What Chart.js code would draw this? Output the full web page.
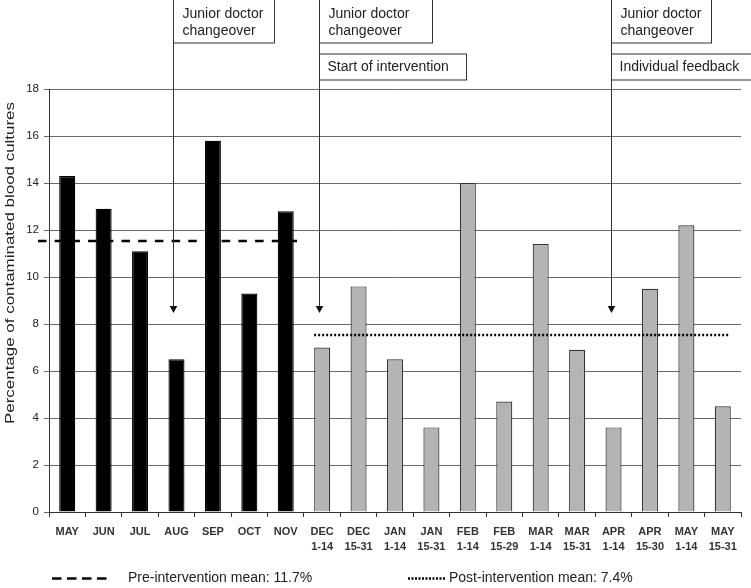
<!DOCTYPE html>
<html>
<head>
<meta charset="utf-8">
<script src="https://cdn.jsdelivr.net/npm/chart.js@4/dist/chart.umd.min.js"></script>
<style>
  html, body { margin: 0; padding: 0; background: #fff; }
</style>
</head>
<body>
<canvas id="myChart" width="751" height="588"></canvas>
<script>
// data
const periods = [
    ['MAY'], ['JUN'], ['JUL'], ['AUG'], ['SEP'], ['OCT'], ['NOV'],
    ['DEC', '1-14'], ['DEC', '15-31'], ['JAN', '1-14'], ['JAN', '15-31'],
    ['FEB', '1-14'], ['FEB', '15-29'], ['MAR', '1-14'], ['MAR', '15-31'],
    ['APR', '1-14'], ['APR', '15-30'], ['MAY', '1-14'], ['MAY', '15-31']
];
const contaminated = [14.3, 12.9, 11.1, 6.5, 15.8, 9.3, 12.8,
    7.0, 9.6, 6.5, 3.6, 14.0, 4.7, 11.4, 6.9, 3.6, 9.5, 12.2, 4.5];
const preCount = 7;         // first 7 bars are before the intervention
const preMean = 11.55;      // where the dashed line is drawn
const postMean = 7.55;      // where the dotted line is drawn
const legendText = ['Pre-intervention mean: 11.7%', 'Post-intervention mean: 7.4%'];
const yTitle = 'Percentage of contaminated blood cultures';

// events marked with arrows (index into periods)
const eventAt = [3, 7, 15];
const eventText = [
    ['Junior doctor', 'changeover'],
    ['Junior doctor', 'changeover'],
    ['Junior doctor', 'changeover']
];
const eventNote = [null, 'Start of intervention', 'Individual feedback'];

// styling
const FONT = '"Liberation Sans", Arial, sans-serif';
const INK = '#222';
const boxW = [101, 113, 100];
const noteW = [0, 147, 140];
const arrowTip = 8.47; // y value where arrow heads end

const overlay = {
    id: 'overlay',
    afterDatasetsDraw(chart) {
        const { ctx, chartArea } = chart;
        const x = chart.scales.x, y = chart.scales.y;
        const half = (x.getPixelForValue(1) - x.getPixelForValue(0)) / 2;
        ctx.save();

        // mean lines
        ctx.strokeStyle = '#000';
        ctx.lineWidth = 2.6;
        ctx.setLineDash([8.5, 8.2]);
        let py = Math.round(y.getPixelForValue(preMean));
        ctx.beginPath();
        ctx.moveTo(chartArea.left - 11, py);
        ctx.lineTo(x.getPixelForValue(preCount - 1) + half, py);
        ctx.stroke();

        ctx.lineWidth = 2.4;
        ctx.setLineDash([2, 2]);
        py = Math.round(y.getPixelForValue(postMean));
        ctx.beginPath();
        ctx.moveTo(x.getPixelForValue(preCount) - 8, py);
        ctx.lineTo(x.getPixelForValue(contaminated.length - 1) + 7, py);
        ctx.stroke();

        // arrows + text boxes
        ctx.setLineDash([]);
        ctx.font = '14px ' + FONT;
        ctx.textBaseline = 'middle';
        ctx.textAlign = 'left';
        const tip = y.getPixelForValue(arrowTip);
        eventAt.forEach((idx, i) => {
            const ax = Math.round(x.getPixelForValue(idx) - 3) + 0.5;
            ctx.strokeStyle = '#333';
            ctx.lineWidth = 1;
            ctx.beginPath();
            ctx.moveTo(ax, 0);
            ctx.lineTo(ax, tip - 6);
            ctx.stroke();
            ctx.fillStyle = '#111';
            ctx.beginPath();
            ctx.moveTo(ax - 3.8, tip - 7);
            ctx.lineTo(ax + 3.8, tip - 7);
            ctx.lineTo(ax, tip);
            ctx.closePath();
            ctx.fill();

            ctx.fillStyle = '#fff';
            ctx.fillRect(ax, -1, boxW[i], 44);
            ctx.strokeRect(ax, -1, boxW[i], 44);
            ctx.fillStyle = INK;
            ctx.fillText(eventText[i][0], ax + 9, 14);
            ctx.fillText(eventText[i][1], ax + 9, 31);

            if (eventNote[i]) {
                ctx.fillStyle = '#fff';
                ctx.fillRect(ax, 54, noteW[i], 26);
                ctx.strokeRect(ax, 54, noteW[i], 26);
                ctx.fillStyle = INK;
                ctx.fillText(eventNote[i], ax + 8, 67.5);
            }
        });
        ctx.restore();
    },
    afterDraw(chart) {
        const { ctx } = chart;
        ctx.save();
        const ly = 578.5;
        ctx.strokeStyle = '#000';
        ctx.lineWidth = 2.6;
        ctx.setLineDash([9.5, 5.5]);
        ctx.beginPath();
        ctx.moveTo(52, ly);
        ctx.lineTo(110, ly);
        ctx.stroke();
        ctx.setLineDash([2, 1.5]);
        ctx.lineWidth = 2.4;
        ctx.beginPath();
        ctx.moveTo(408, ly);
        ctx.lineTo(445, ly);
        ctx.stroke();

        ctx.fillStyle = INK;
        ctx.font = '14px ' + FONT;
        ctx.textBaseline = 'middle';
        ctx.fillText(legendText[0], 128, ly);
        ctx.fillText(legendText[1], 449, ly);

        // y axis title (stretched along its length as in the figure)
        ctx.font = '13px ' + FONT;
        const w = ctx.measureText(yTitle).width;
        ctx.translate(10, 263);
        ctx.rotate(-Math.PI / 2);
        ctx.scale(322 / w, 1);
        ctx.textAlign = 'center';
        ctx.fillText(yTitle, 0, 0);
        ctx.restore();
    }
};

const barFill = contaminated.map((v, i) => i < preCount ? '#000' : '#b4b4b4');
const barEdge = contaminated.map((v, i) => i < preCount ? '#000' : '#333');

const config = {
    type: 'bar',
    data: {
        labels: periods,
        datasets: [{
            label: 'Contaminated',
            data: contaminated,
            backgroundColor: barFill,
            borderColor: barEdge,
            borderWidth: 1.2,
            barPercentage: 0.44,
            categoryPercentage: 1
        }]
    },
    options: {
        responsive: false,
        animation: false,
        layout: { padding: { top: 89, right: 10, left: 0, bottom: 0 } },
        plugins: {
            legend: { display: false },
            tooltip: { enabled: false }
        },
        scales: {
            x: {
                afterFit: (s) => { s.height = 76; },
                grid: {
                    display: true,
                    drawOnChartArea: false,
                    tickLength: 5,
                    color: '#333'
                },
                border: { color: '#333', width: 1 },
                ticks: {
                    color: '#333',
                    padding: 8,
                    maxRotation: 0,
                    autoSkip: false,
                    font: { family: FONT, size: 11, weight: 'bold', lineHeight: 1.35 }
                }
            },
            y: {
                min: 0,
                max: 18,
                afterFit: (s) => { s.width = 49; },
                grid: {
                    color: '#6a6a6a',
                    tickLength: 5
                },
                border: { color: '#333', width: 1 },
                ticks: {
                    stepSize: 2,
                    color: INK,
                    padding: 5,
                    font: { family: FONT, size: 11.5 }
                }
            }
        }
    },
    plugins: [overlay]
};

const ctx = document.getElementById('myChart');
let myChart = new Chart(ctx, config);
</script>
</body>
</html>
